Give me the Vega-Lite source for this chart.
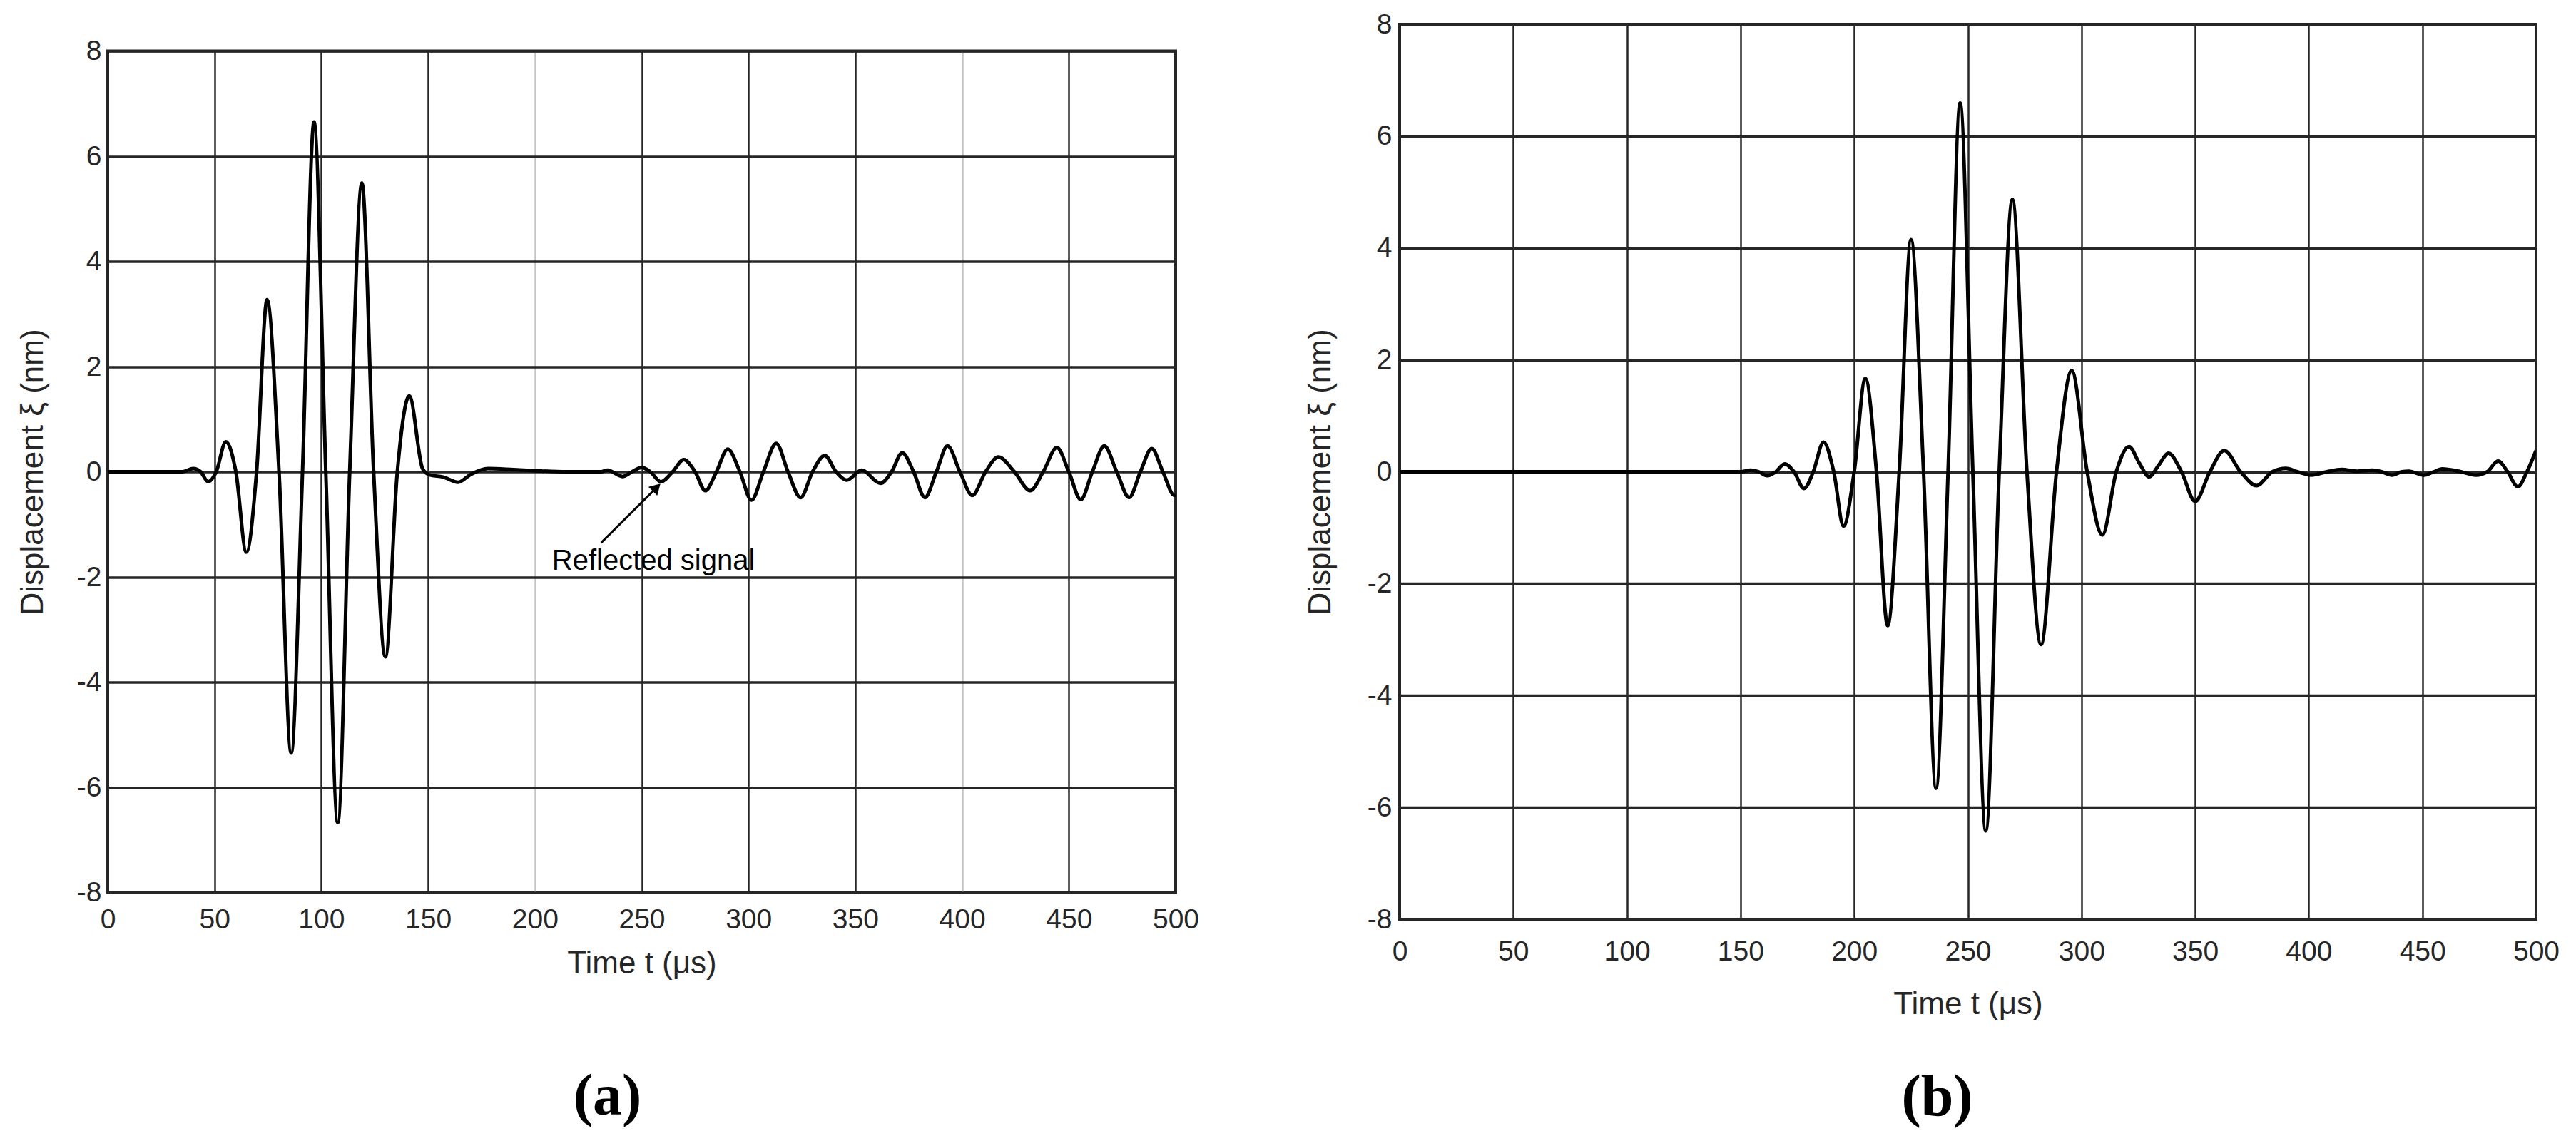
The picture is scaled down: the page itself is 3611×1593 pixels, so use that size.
{
  "$schema": "https://vega.github.io/schema/vega-lite/v6.json",
  "background": "white",
  "padding": {"left": 22, "top": 13, "right": 0, "bottom": 0},
  "spacing": 314,
  "bounds": "flush",
  "center": true,
  "config": {
    "view": {"stroke": "#262626", "strokeWidth": 4},
    "font": "Liberation Sans",
    "axis": {
      "labelFont": "Liberation Sans",
      "titleFont": "Liberation Sans",
      "labelColor": "#262626",
      "titleColor": "#262626",
      "titleFontWeight": "normal",
      "labelFlush": false,
      "labelOverlap": false,
      "ticks": false,
      "tickSize": 0,
      "domain": false
    }
  },
  "datasets": {
    "a": [
      {"t": 0, "v": 0}, {"t": 20, "v": 0}, {"t": 35, "v": 0}, {"t": 40, "v": 0.06}, {"t": 43.5, "v": 0},
      {"t": 47, "v": -0.19}, {"t": 50.8, "v": 0}, {"t": 55.3, "v": 0.57}, {"t": 60, "v": 0}, {"t": 64.9, "v": -1.53},
      {"t": 69.7, "v": 0}, {"t": 74.6, "v": 3.27}, {"t": 80.2, "v": 0}, {"t": 85.9, "v": -5.35}, {"t": 91.2, "v": 0},
      {"t": 96.6, "v": 6.65}, {"t": 102.1, "v": 0}, {"t": 107.7, "v": -6.67}, {"t": 113.3, "v": 0}, {"t": 119, "v": 5.49},
      {"t": 124.5, "v": 0}, {"t": 130, "v": -3.52}, {"t": 135.6, "v": 0}, {"t": 141.2, "v": 1.44}, {"t": 147.5, "v": 0.05},
      {"t": 150.7, "v": -0.06}, {"t": 157, "v": -0.1}, {"t": 164, "v": -0.2}, {"t": 170, "v": -0.05}, {"t": 178, "v": 0.06},
      {"t": 190, "v": 0.04}, {"t": 200, "v": 0.02}, {"t": 215, "v": 0}, {"t": 231, "v": 0}, {"t": 234, "v": 0.03},
      {"t": 241, "v": -0.09}, {"t": 245.5, "v": 0}, {"t": 250, "v": 0.08}, {"t": 254, "v": 0}, {"t": 259, "v": -0.19},
      {"t": 264.5, "v": 0}, {"t": 269.7, "v": 0.23}, {"t": 275, "v": 0}, {"t": 279.8, "v": -0.36}, {"t": 285, "v": 0},
      {"t": 290.3, "v": 0.43}, {"t": 296, "v": 0}, {"t": 301.4, "v": -0.54}, {"t": 307, "v": 0}, {"t": 313, "v": 0.54},
      {"t": 318.5, "v": 0}, {"t": 324.4, "v": -0.49}, {"t": 330, "v": 0}, {"t": 335.7, "v": 0.31}, {"t": 341, "v": 0},
      {"t": 346, "v": -0.16}, {"t": 353, "v": 0.03}, {"t": 361.8, "v": -0.22}, {"t": 367, "v": 0}, {"t": 372, "v": 0.36},
      {"t": 377.3, "v": 0}, {"t": 382.6, "v": -0.49}, {"t": 388, "v": 0}, {"t": 393.2, "v": 0.49}, {"t": 399, "v": 0},
      {"t": 404.8, "v": -0.45}, {"t": 411, "v": 0}, {"t": 417, "v": 0.28}, {"t": 424.5, "v": 0}, {"t": 431.9, "v": -0.36},
      {"t": 438, "v": 0}, {"t": 444.4, "v": 0.46}, {"t": 450, "v": 0}, {"t": 455.6, "v": -0.53}, {"t": 461, "v": 0},
      {"t": 466.6, "v": 0.49}, {"t": 472.4, "v": 0}, {"t": 478.2, "v": -0.49}, {"t": 483.5, "v": 0}, {"t": 488.8, "v": 0.44},
      {"t": 494, "v": 0}, {"t": 499.4, "v": -0.45}, {"t": 500, "v": -0.44}
    ],
    "b": [
      {"t": 0, "v": 0}, {"t": 50, "v": 0}, {"t": 100, "v": 0}, {"t": 150, "v": 0}, {"t": 154.5, "v": 0.03},
      {"t": 158, "v": 0}, {"t": 161.7, "v": -0.07}, {"t": 165.5, "v": 0}, {"t": 169.4, "v": 0.14}, {"t": 173.5, "v": 0},
      {"t": 177.9, "v": -0.3}, {"t": 182, "v": 0}, {"t": 186.5, "v": 0.53}, {"t": 191, "v": 0}, {"t": 195.3, "v": -0.97},
      {"t": 200, "v": 0}, {"t": 204.9, "v": 1.67}, {"t": 209.8, "v": 0}, {"t": 214.7, "v": -2.75}, {"t": 219.8, "v": 0},
      {"t": 225, "v": 4.15}, {"t": 230.5, "v": 0}, {"t": 236, "v": -5.66}, {"t": 241.3, "v": 0}, {"t": 246.6, "v": 6.59},
      {"t": 252.2, "v": 0}, {"t": 257.9, "v": -6.42}, {"t": 263.8, "v": 0}, {"t": 269.6, "v": 4.87}, {"t": 276, "v": 0},
      {"t": 282.2, "v": -3.09}, {"t": 289, "v": 0}, {"t": 295.7, "v": 1.81}, {"t": 302.5, "v": 0}, {"t": 309.2, "v": -1.13},
      {"t": 315.3, "v": 0}, {"t": 320.9, "v": 0.45}, {"t": 325.5, "v": 0.15}, {"t": 329.8, "v": -0.09}, {"t": 334, "v": 0.12},
      {"t": 338.3, "v": 0.33}, {"t": 344, "v": 0}, {"t": 350, "v": -0.53}, {"t": 356.5, "v": 0}, {"t": 362.8, "v": 0.38},
      {"t": 370, "v": 0}, {"t": 377, "v": -0.25}, {"t": 384, "v": 0}, {"t": 390, "v": 0.06}, {"t": 395, "v": 0},
      {"t": 401, "v": -0.06}, {"t": 408, "v": 0}, {"t": 414.5, "v": 0.04}, {"t": 421, "v": 0.01}, {"t": 428, "v": 0.03},
      {"t": 432, "v": 0}, {"t": 436.6, "v": -0.06}, {"t": 441, "v": 0}, {"t": 444, "v": 0.01}, {"t": 450.7, "v": -0.06},
      {"t": 455, "v": 0}, {"t": 458.7, "v": 0.05}, {"t": 466, "v": 0.01}, {"t": 473.5, "v": -0.06}, {"t": 478.5, "v": 0},
      {"t": 483.3, "v": 0.19}, {"t": 487.5, "v": 0}, {"t": 492, "v": -0.27}, {"t": 496, "v": 0}, {"t": 500, "v": 0.38}
    ]
  },
  "hconcat": [
    {
      "width": 1497,
      "height": 1180,
      "title": {"text": "(a)", "orient": "bottom", "font": "Liberation Serif", "fontSize": 82, "fontWeight": "bold", "color": "black", "offset": 124, "anchor": "middle", "dx": -48},
      "layer": [
        {
          "data": {"name": "a"},
          "mark": {"type": "line", "interpolate": "monotone", "color": "black", "strokeWidth": 5, "strokeJoin": "round", "clip": true},
          "encoding": {
            "x": {"field": "t", "type": "quantitative", "scale": {"domain": [0, 500], "nice": false, "zero": false},
              "axis": {"orient": "bottom", "values": [0, 50, 100, 150, 200, 250, 300, 350, 400, 450, 500], "title": "Time t (μs)",
                "labelFontSize": 39, "labelPadding": 19, "titleFontSize": 44, "titlePadding": 20, "grid": true, "gridWidth": 2.5,
                "labelExpr": "'' + datum.value",
                "gridColor": {"condition": {"test": "datum.value === 200 || datum.value === 400", "value": "#c4c4c4"}, "value": "#262626"}}},
            "y": {"field": "v", "type": "quantitative", "scale": {"domain": [-8, 8], "nice": false, "zero": false},
              "axis": {"orient": "left", "values": [-8, -6, -4, -2, 0, 2, 4, 6, 8], "title": "Displacement ξ (nm)", "labelFontSize": 39, "labelPadding": 9,
                "titleFontSize": 44, "titlePadding": 39, "grid": true, "gridWidth": 3.5, "gridColor": "#262626",
                "labelExpr": "datum.value < 0 ? '-' + abs(datum.value) : '' + datum.value"}}
          }
        },
        {
          "data": {"values": [{"t": 231, "v": -1.35, "t2": 257, "v2": -0.3}]},
          "mark": {"type": "rule", "color": "black", "strokeWidth": 3},
          "encoding": {
            "x": {"field": "t", "type": "quantitative"},
            "y": {"field": "v", "type": "quantitative"},
            "x2": {"field": "t2"},
            "y2": {"field": "v2"}
          }
        },
        {
          "data": {"values": [{"t": 257, "v": -0.3}]},
          "mark": {"type": "point", "shape": "triangle-up", "filled": true, "color": "black", "opacity": 1, "size": 300, "angle": 45},
          "encoding": {
            "x": {"field": "t", "type": "quantitative"},
            "y": {"field": "v", "type": "quantitative"}
          }
        },
        {
          "data": {"values": [{"t": 208, "v": -1.87, "label": "Reflected signal"}]},
          "mark": {"type": "text", "align": "left", "baseline": "alphabetic", "fontSize": 40, "color": "black", "font": "Liberation Sans"},
          "encoding": {
            "x": {"field": "t", "type": "quantitative"},
            "y": {"field": "v", "type": "quantitative"},
            "text": {"field": "label"}
          }
        }
      ]
    },
    {
      "width": 1593,
      "height": 1255,
      "title": {"text": "(b)", "orient": "bottom", "font": "Liberation Serif", "fontSize": 82, "fontWeight": "bold", "color": "black", "offset": 69, "anchor": "middle", "dx": -43},
      "data": {"name": "b"},
      "mark": {"type": "line", "interpolate": "monotone", "color": "black", "strokeWidth": 5, "strokeJoin": "round", "clip": true},
      "encoding": {
        "x": {"field": "t", "type": "quantitative", "scale": {"domain": [0, 500], "nice": false, "zero": false},
          "axis": {"orient": "bottom", "values": [0, 50, 100, 150, 200, 250, 300, 350, 400, 450, 500], "title": "Time t (μs)",
            "labelFontSize": 39, "labelPadding": 26, "titleFontSize": 44, "titlePadding": 32, "grid": true, "gridWidth": 2.5, "gridColor": "#262626",
            "labelExpr": "'' + datum.value"}},
        "y": {"field": "v", "type": "quantitative", "scale": {"domain": [-8, 8], "nice": false, "zero": false},
          "axis": {"orient": "left", "values": [-8, -6, -4, -2, 0, 2, 4, 6, 8], "title": "Displacement ξ (nm)", "labelFontSize": 39, "labelPadding": 11,
            "titleFontSize": 44, "titlePadding": 43, "grid": true, "gridWidth": 3.5, "gridColor": "#262626",
            "labelExpr": "datum.value < 0 ? '-' + abs(datum.value) : '' + datum.value"}}
      }
    }
  ]
}
